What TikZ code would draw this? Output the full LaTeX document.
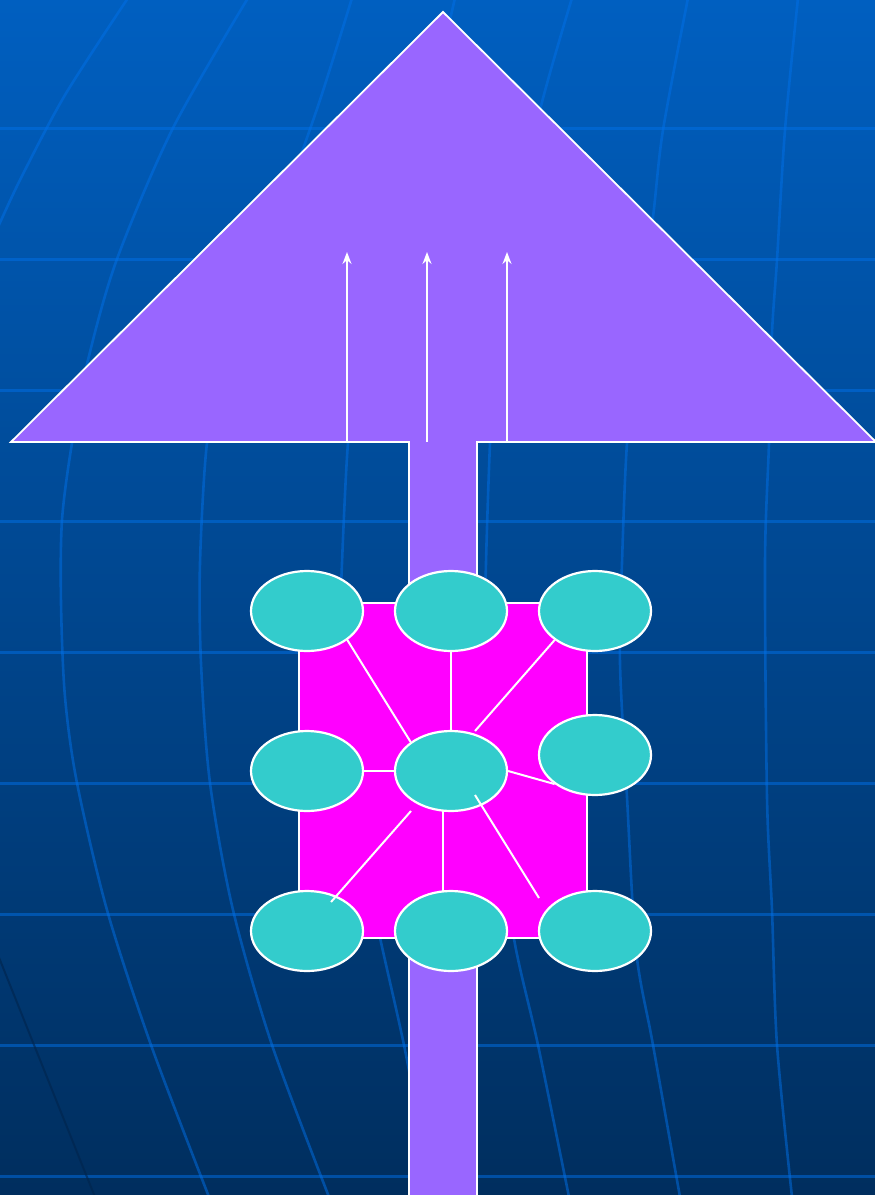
\documentclass[tikz,border=0pt]{standalone}
\usetikzlibrary{shapes.geometric,arrows.meta,calc}
\definecolor{skytop}{RGB}{0,95,192}
\definecolor{skybot}{RGB}{0,46,94}
\definecolor{gridblue}{RGB}{0,112,232}
\definecolor{gridshade}{RGB}{0,36,76}
\definecolor{arrowpurple}{RGB}{153,102,255}
\definecolor{boardpink}{RGB}{255,0,255}
\definecolor{cellteal}{RGB}{51,204,204}

\begin{document}
\begin{tikzpicture}[x=1pt, y=-1pt,
    parallel/.style={gridblue, opacity=0.5, line width=3pt},
    meridian/.style={gridblue, opacity=0.5, line width=2.6pt},
    shaft/.style={draw=white, line width=1.8pt, fill=arrowpurple, line join=miter},
    panel/.style={rectangle, draw=white, line width=2pt, fill=boardpink, minimum width=288pt, minimum height=335pt, inner sep=0pt},
    cell/.style={ellipse, draw=white, line width=2.2pt, fill=cellteal, minimum width=112pt, minimum height=80pt, inner sep=0pt},
    link/.style={white, line width=2pt},
    flow/.style={white, line width=1.8pt, -{Stealth[length=12pt,width=9pt,inset=4pt]}}
]
    \useasboundingbox (0,0) rectangle (875,1195);
    \clip (0,0) rectangle (875,1195);
    \shade[top color=skytop, bottom color=skybot] (0,0) rectangle (875,1195);

    \foreach \y in {128,259,...,1176}
        \draw[parallel] (0,\y) -- (875,\y);
    \draw[meridian] plot[smooth] coordinates {(128,-2) (65,95) (20,180) (-6,236)};
    \draw[meridian] plot[smooth] coordinates {(248,-2) (173,128) (117,259) (88,360) (72,443) (62,520) (61,603) (65,697) (77,783) (107,910) (151,1045) (209,1197)};
    \draw[meridian] plot[smooth] coordinates {(352,-2) (320,100) (285,200) (250,300) (222,385) (207,443) (200,563) (201,663) (210,783) (233,910) (272,1045) (329,1197)};
    \draw[meridian] plot[smooth] coordinates {(455,-2) (420,150) (385,300) (356,400) (348,443) (342,563) (340,650) (348,783) (379,933) (407,1060) (430,1197)};
    \draw[meridian] plot[smooth] coordinates {(572,-2) (540,110) (510,250) (495,350) (490,443) (486,563) (485,650) (495,783) (513,933) (538,1045) (569,1197)};
    \draw[meridian] plot[smooth] coordinates {(688,-2) (663,130) (653,217) (638,330) (627,443) (622,563) (620,663) (627,797) (636,950) (653,1045) (680,1197)};
    \draw[meridian] plot[smooth] coordinates {(798,-2) (785,130) (777,260) (772,333) (769,443) (765,563) (767,797) (772,910) (777,1045) (792,1197)};
    \draw[gridshade, line width=2pt, opacity=0.6] (-2,955) -- (95,1197);

    \draw[shaft] (443,12) -- (876,442) -- (477,442) -- (477,1200) -- (409,1200) -- (409,442) -- (11,442) -- cycle;

    \foreach \x [count=\i] in {347,427,507} {
        \coordinate (in\i) at (\x,442);
        \coordinate (out\i) at (\x,252);
        \draw[flow] (in\i) -- (out\i);
    }

    \node[panel] (board) at (443,770.5) {};

    \node[cell] (e1) at (307,611) {};
    \node[cell] (e2) at (451,611) {};
    \node[cell] (e3) at (595,611) {};
    \node[cell] (e4) at (307,771) {};
    \node[cell] (e5) at (451,771) {};
    \node[cell] (e6) at (595,755) {};
    \node[cell] (e7) at (307,931) {};
    \node[cell] (e8) at (451,931) {};
    \node[cell] (e9) at (595,931) {};

    \draw[link] (e1.south east) -- (e5.north west);
    \draw[link] (e2.south) -- (e5.north);
    \draw[link] (e3.south west) -- ([shift={(24,-40)}]e5.center);
    \draw[link] (e4.east) -- (e5.west);
    \draw[link] (e5.east) -- (e6.south west);
    \draw[link] ([shift={(-40,40)}]e5.center) -- ([shift={(24,-29)}]e7.center);
    \draw[link] ([shift={(-8,40)}]e5.center) -- ([shift={(-8,-40)}]e8.center);
    \draw[link] ([shift={(24,24)}]e5.center) -- ([shift={(-56,-33)}]e9.center);
\end{tikzpicture}
\end{document}
